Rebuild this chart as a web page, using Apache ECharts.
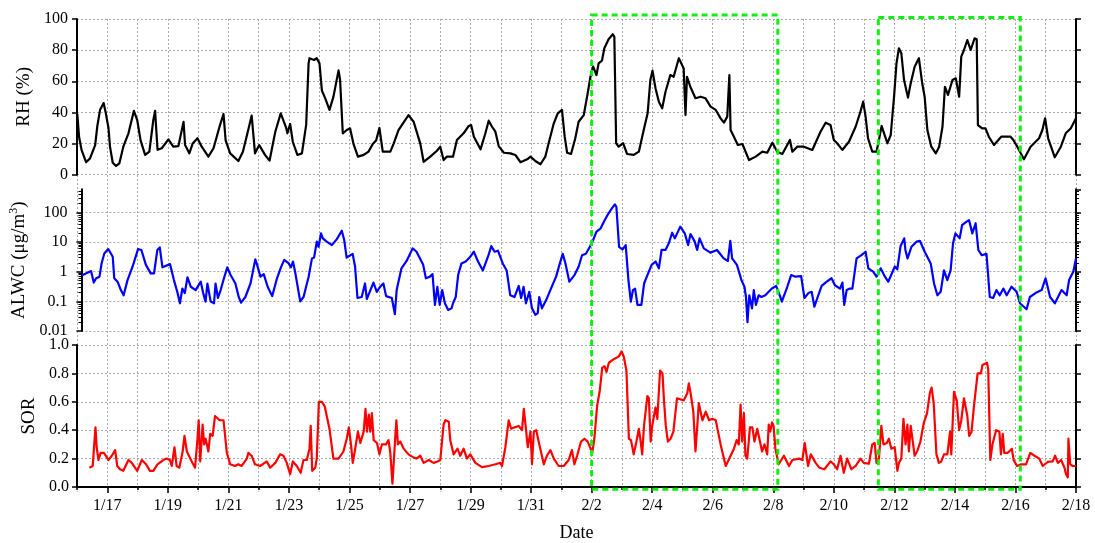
<!DOCTYPE html>
<html>
<head>
<meta charset="utf-8">
<script src="https://cdn.jsdelivr.net/npm/echarts@6/dist/echarts.min.js"></script>
<style>
html,body{margin:0;padding:0;background:#fff;}
#chart{width:1095px;height:543px;}
</style>
</head>
<body>
<div id="chart"></div>
<script>
// x values: day number counted from Jan 0 (Jan 16 = 16, Feb 2 = 33, Feb 18 = 49)
const rhPoints = [[16.01,39],[16.07,24],[16.15,16],[16.30,8],[16.43,10.5],[16.6,19],[16.67,31],[16.76,41.5],[16.88,46],[16.95,39.6],[17.04,30],[17.09,18],[17.18,7.7],[17.29,5.6],[17.4,7.3],[17.53,18],[17.7,26.6],[17.88,41],[17.99,35],[18.1,22],[18.25,12.7],[18.39,14.8],[18.52,35],[18.58,41],[18.66,16],[18.8,17],[19.02,22.7],[19.18,18],[19.35,18.4],[19.52,34],[19.57,19],[19.71,13.7],[19.82,20],[19.98,23.4],[20.12,18],[20.34,11.6],[20.51,17],[20.71,31],[20.84,39],[20.91,22],[21.06,13.7],[21.33,8.8],[21.48,14.8],[21.63,26.6],[21.77,38],[21.88,13.7],[22.02,19],[22.21,12.7],[22.36,9],[22.55,27.6],[22.73,39.4],[22.91,30],[22.95,26.6],[23.04,32.6],[23.13,21],[23.28,12.7],[23.43,13.7],[23.57,32],[23.65,71.5],[23.68,74.8],[23.83,73.7],[23.92,74.8],[24.01,71.5],[24.09,54],[24.2,49],[24.34,41.6],[24.47,50],[24.64,67],[24.69,61],[24.78,26.6],[24.91,28.7],[25.02,29.8],[25.13,20],[25.28,11.6],[25.47,12.7],[25.63,14.8],[25.77,19.7],[25.88,22],[25.99,30],[26.1,14.8],[26.35,14.8],[26.46,20],[26.62,28.7],[26.95,38.3],[27.12,34],[27.34,20],[27.45,8.3],[27.67,11.6],[27.89,15.4],[28.0,18],[28.11,9.4],[28.22,11.6],[28.42,11.6],[28.55,22.3],[28.77,26.6],[28.94,31.3],[29.02,31.9],[29.11,24.4],[29.33,16.3],[29.49,26.6],[29.6,34.7],[29.71,30.8],[29.82,27.6],[29.93,18.4],[30.1,14.1],[30.32,13.7],[30.48,12.7],[30.65,8],[30.87,9.9],[30.98,11.6],[31.14,8.8],[31.31,6.7],[31.47,11.6],[31.58,20.2],[31.75,33],[31.88,39.4],[32.02,41.6],[32.11,24.4],[32.19,14.1],[32.32,13.3],[32.46,23.4],[32.57,34],[32.74,38.3],[32.87,52.3],[32.96,62.9],[33.05,69.4],[33.16,64],[33.23,71.5],[33.34,73.2],[33.42,81.2],[33.56,87],[33.7,90.2],[33.75,88.6],[33.81,20.2],[33.89,18],[34.04,20.2],[34.17,13.3],[34.39,12.7],[34.56,14.8],[34.72,28.7],[34.85,39.4],[34.94,60.8],[35.01,66.8],[35.11,55.5],[35.22,46.9],[35.33,42.6],[35.44,53.3],[35.6,64],[35.71,62.9],[35.88,74.8],[36.04,68.3],[36.1,38.3],[36.15,62.9],[36.26,56.5],[36.43,49.1],[36.6,50.1],[36.76,49.1],[36.93,43.7],[37.1,41.6],[37.26,36.2],[37.37,33.4],[37.48,37.3],[37.55,64],[37.59,28.7],[37.7,24.4],[37.83,19.1],[37.98,19.7],[38.2,9.4],[38.42,11.6],[38.64,14.8],[38.8,14.1],[38.97,20.6],[39.13,14.8],[39.3,13.3],[39.55,22.3],[39.63,14.8],[39.79,18],[40.01,18],[40.29,15.9],[40.56,27.6],[40.73,33.4],[40.89,31.9],[41.0,22.3],[41.11,20.2],[41.28,15.9],[41.5,21.2],[41.72,30.8],[41.88,40.5],[41.97,46.9],[42.05,37.3],[42.13,23.4],[42.27,14.8],[42.41,14.8],[42.49,22.3],[42.58,31.3],[42.66,26.6],[42.77,20.2],[42.88,25.5],[42.99,50.1],[43.07,71.5],[43.15,81.2],[43.23,78],[43.32,60.8],[43.45,49.5],[43.54,58.7],[43.67,69.4],[43.81,74.8],[43.92,58.7],[44.0,50.1],[44.09,28.7],[44.22,18],[44.37,13.7],[44.48,18],[44.59,30.8],[44.67,56.5],[44.77,51.2],[44.92,60.8],[45.03,61.9],[45.14,50.1],[45.21,75.8],[45.3,80.1],[45.41,86.5],[45.52,80.1],[45.65,87.6],[45.72,87],[45.76,31.9],[45.9,29.8],[46.01,29.8],[46.12,24.4],[46.29,19.1],[46.53,24.4],[46.84,24.4],[46.93,22.3],[47.06,18],[47.28,9.9],[47.5,18],[47.78,23.4],[47.89,28.7],[47.98,36.2],[48.08,23.4],[48.3,11.2],[48.5,18],[48.66,26.6],[48.83,29.8],[49.0,36.2]];

const alwcPoints = [[16.01,0.74],[16.32,1.05],[16.41,0.43],[16.49,0.6],[16.6,0.68],[16.67,1.9],[16.76,4.1],[16.89,5.8],[17.04,3.2],[17.09,0.6],[17.2,0.46],[17.31,0.24],[17.4,0.16],[17.53,0.52],[17.7,1.5],[17.88,5.8],[17.99,5.4],[18.14,1.7],[18.3,0.88],[18.41,0.88],[18.52,5.4],[18.6,6.6],[18.69,1.4],[18.94,1.8],[19.07,0.52],[19.18,0.21],[19.27,0.086],[19.35,0.27],[19.43,0.19],[19.52,0.65],[19.63,0.31],[19.79,0.24],[19.96,0.46],[20.04,0.19],[20.12,0.098],[20.18,0.4],[20.29,0.098],[20.4,0.086],[20.45,0.4],[20.53,0.13],[20.62,0.24],[20.73,0.6],[20.84,1.4],[20.95,0.77],[21.11,0.4],[21.22,0.14],[21.3,0.09],[21.44,0.14],[21.61,0.4],[21.77,2.6],[21.83,1.7],[21.94,0.68],[22.05,0.83],[22.18,0.31],[22.33,0.15],[22.49,0.6],[22.62,1.4],[22.73,2.5],[22.88,1.9],[22.95,1.4],[23.02,2.2],[23.1,0.88],[23.26,0.1],[23.37,0.14],[23.54,0.68],[23.65,2.8],[23.72,3],[23.81,10.3],[23.87,6.9],[23.95,19.6],[24.01,13.3],[24.14,10.3],[24.31,7.9],[24.47,12.3],[24.64,24],[24.72,11.7],[24.8,3],[25.0,4],[25.08,1.5],[25.16,0.13],[25.3,0.14],[25.41,0.4],[25.47,0.12],[25.55,0.19],[25.69,0.43],[25.8,0.21],[25.91,0.31],[26.02,0.4],[26.11,0.15],[26.3,0.13],[26.4,0.037],[26.46,0.24],[26.62,1.3],[26.79,2.3],[26.99,6.1],[27.12,4.7],[27.34,1.7],[27.43,0.6],[27.56,0.68],[27.65,0.83],[27.73,0.076],[27.81,0.31],[27.89,0.076],[27.97,0.24],[28.06,0.086],[28.17,0.051],[28.28,0.058],[28.33,0.086],[28.42,0.14],[28.5,0.77],[28.61,1.9],[28.75,2.2],[28.88,3],[29.02,4.7],[29.16,2.2],[29.32,1.1],[29.49,3.2],[29.6,7.3],[29.71,4.7],[29.82,5.1],[29.98,1.9],[30.11,1.1],[30.23,0.16],[30.37,0.14],[30.51,0.33],[30.59,0.13],[30.67,0.31],[30.75,0.086],[30.86,0.21],[30.95,0.058],[31.06,0.035],[31.14,0.04],[31.19,0.14],[31.28,0.058],[31.42,0.11],[31.58,0.27],[31.75,0.68],[31.86,1.7],[31.97,4],[32.06,1.9],[32.19,0.46],[32.36,0.77],[32.5,1.5],[32.61,3.6],[32.74,4],[32.87,6.9],[32.98,11.7],[33.09,22.4],[33.23,29],[33.34,49],[33.49,93],[33.6,136],[33.7,186],[33.75,155],[33.84,6.9],[33.95,5.6],[34.06,7.9],[34.15,0.52],[34.23,0.098],[34.3,0.24],[34.37,0.27],[34.45,0.076],[34.58,0.076],[34.67,0.4],[34.78,0.77],[34.92,1.7],[35.05,2.2],[35.16,1.3],[35.25,5.4],[35.38,5.4],[35.49,9.1],[35.6,20.6],[35.69,13.3],[35.87,33],[36.02,19.6],[36.13,7.9],[36.21,18.6],[36.35,10.3],[36.43,5.4],[36.51,13.3],[36.65,6.1],[36.87,4.4],[37.09,5.4],[37.31,2.8],[37.45,2.3],[37.53,11],[37.59,2.8],[37.75,1.7],[37.9,0.52],[38.0,0.31],[38.05,0.14],[38.1,0.02],[38.16,0.16],[38.25,0.058],[38.31,0.24],[38.38,0.076],[38.47,0.16],[38.56,0.14],[38.69,0.16],[38.91,0.27],[39.05,0.33],[39.19,0.14],[39.24,0.098],[39.42,0.31],[39.55,0.77],[39.69,0.68],[39.88,0.71],[39.99,0.13],[40.12,0.19],[40.23,0.21],[40.32,0.066],[40.43,0.14],[40.56,0.33],[40.73,0.46],[40.89,0.6],[41.0,0.35],[41.17,0.27],[41.25,0.43],[41.31,0.076],[41.39,0.24],[41.5,0.27],[41.58,0.27],[41.72,2.8],[41.88,3.6],[42.02,4.7],[42.11,1.3],[42.27,1],[42.38,0.68],[42.52,1.3],[42.66,0.68],[42.77,0.46],[42.99,1.5],[43.07,1.2],[43.18,7.3],[43.3,13.3],[43.34,5.4],[43.41,2.8],[43.54,6.9],[43.71,10.3],[43.82,11],[43.98,4.7],[44.18,1.9],[44.29,0.4],[44.4,0.16],[44.51,0.21],[44.62,1.1],[44.73,0.52],[44.84,1.1],[44.92,9.1],[45.0,19.6],[45.14,13.3],[45.22,37],[45.37,49],[45.45,55],[45.56,19.6],[45.67,43],[45.76,5.4],[45.87,3.6],[46.03,4],[46.14,0.14],[46.25,0.13],[46.36,0.24],[46.47,0.16],[46.59,0.27],[46.7,0.16],[46.86,0.31],[47.03,0.21],[47.14,0.086],[47.36,0.054],[47.47,0.14],[47.69,0.2],[47.86,0.24],[47.99,0.6],[48.14,0.14],[48.3,0.086],[48.52,0.24],[48.69,0.16],[48.77,0.52],[48.91,1],[49.0,2.8]];

const sorPoints = [[16.41,0.136],[16.52,0.148],[16.56,0.27],[16.61,0.42],[16.65,0.28],[16.71,0.19],[16.78,0.24],[16.89,0.24],[17.04,0.19],[17.15,0.22],[17.26,0.26],[17.33,0.148],[17.42,0.125],[17.53,0.114],[17.7,0.19],[17.81,0.17],[17.99,0.114],[18.14,0.19],[18.28,0.16],[18.41,0.114],[18.52,0.114],[18.66,0.16],[18.85,0.19],[18.96,0.2],[19.07,0.19],[19.13,0.148],[19.22,0.28],[19.29,0.148],[19.38,0.136],[19.49,0.25],[19.55,0.36],[19.63,0.25],[19.79,0.18],[19.9,0.136],[19.98,0.34],[20.02,0.47],[20.07,0.18],[20.12,0.34],[20.15,0.44],[20.2,0.3],[20.25,0.34],[20.34,0.25],[20.4,0.375],[20.48,0.36],[20.56,0.5],[20.62,0.51],[20.71,0.47],[20.84,0.47],[20.95,0.24],[21.06,0.16],[21.22,0.148],[21.33,0.16],[21.44,0.148],[21.61,0.2],[21.66,0.24],[21.77,0.22],[21.88,0.16],[22.05,0.148],[22.27,0.18],[22.38,0.136],[22.55,0.17],[22.71,0.23],[22.82,0.22],[22.93,0.17],[23.04,0.09],[23.13,0.18],[23.26,0.148],[23.39,0.1],[23.48,0.19],[23.59,0.19],[23.68,0.27],[23.72,0.43],[23.77,0.114],[23.87,0.136],[23.92,0.2],[23.99,0.6],[24.09,0.6],[24.18,0.57],[24.25,0.5],[24.34,0.41],[24.47,0.2],[24.64,0.2],[24.8,0.25],[24.91,0.34],[24.98,0.42],[25.05,0.3],[25.11,0.17],[25.19,0.27],[25.28,0.39],[25.36,0.31],[25.47,0.39],[25.53,0.55],[25.58,0.39],[25.64,0.51],[25.69,0.39],[25.74,0.52],[25.8,0.33],[25.91,0.31],[25.99,0.23],[26.07,0.3],[26.21,0.3],[26.29,0.33],[26.35,0.24],[26.42,0.023],[26.49,0.27],[26.55,0.47],[26.6,0.3],[26.68,0.32],[26.79,0.27],[26.95,0.23],[27.1,0.21],[27.21,0.2],[27.34,0.22],[27.45,0.17],[27.62,0.19],[27.78,0.17],[27.91,0.18],[28.0,0.19],[28.11,0.44],[28.17,0.47],[28.28,0.46],[28.33,0.33],[28.44,0.23],[28.57,0.27],[28.66,0.22],[28.77,0.27],[28.88,0.2],[28.99,0.23],[29.16,0.17],[29.38,0.14],[29.6,0.148],[29.82,0.16],[29.98,0.17],[30.04,0.148],[30.15,0.28],[30.26,0.47],[30.34,0.41],[30.45,0.42],[30.59,0.43],[30.7,0.4],[30.76,0.55],[30.81,0.45],[30.89,0.28],[30.98,0.39],[31.03,0.16],[31.09,0.39],[31.17,0.4],[31.25,0.32],[31.42,0.16],[31.52,0.22],[31.64,0.26],[31.75,0.2],[31.91,0.148],[32.08,0.148],[32.24,0.19],[32.35,0.26],[32.43,0.16],[32.52,0.22],[32.65,0.32],[32.76,0.34],[32.87,0.32],[33.02,0.24],[33.09,0.34],[33.18,0.57],[33.27,0.68],[33.35,0.84],[33.43,0.85],[33.49,0.81],[33.57,0.875],[33.73,0.9],[33.9,0.92],[33.99,0.955],[34.06,0.92],[34.15,0.82],[34.23,0.34],[34.3,0.33],[34.39,0.23],[34.48,0.32],[34.56,0.41],[34.62,0.32],[34.67,0.23],[34.73,0.43],[34.84,0.64],[34.89,0.625],[34.95,0.32],[35.0,0.43],[35.11,0.56],[35.17,0.48],[35.26,0.82],[35.34,0.8],[35.39,0.61],[35.45,0.43],[35.52,0.32],[35.61,0.34],[35.7,0.39],[35.82,0.625],[36.04,0.61],[36.16,0.66],[36.21,0.73],[36.27,0.66],[36.36,0.53],[36.43,0.25],[36.49,0.43],[36.54,0.59],[36.66,0.47],[36.77,0.53],[36.88,0.47],[36.99,0.48],[37.1,0.47],[37.15,0.48],[37.26,0.3],[37.43,0.148],[37.59,0.22],[37.7,0.27],[37.79,0.33],[37.86,0.3],[37.92,0.58],[37.97,0.32],[38.03,0.52],[38.08,0.22],[38.14,0.2],[38.23,0.42],[38.31,0.42],[38.38,0.32],[38.47,0.41],[38.63,0.25],[38.71,0.3],[38.8,0.23],[38.85,0.44],[38.9,0.39],[38.96,0.455],[39.01,0.43],[39.07,0.27],[39.18,0.16],[39.35,0.22],[39.52,0.148],[39.63,0.19],[39.85,0.2],[39.96,0.19],[40.04,0.31],[40.15,0.148],[40.24,0.23],[40.4,0.17],[40.52,0.136],[40.69,0.125],[40.89,0.18],[41.0,0.16],[41.11,0.125],[41.22,0.22],[41.33,0.1],[41.44,0.2],[41.5,0.2],[41.58,0.125],[41.72,0.148],[41.88,0.2],[41.99,0.17],[42.16,0.164],[42.27,0.3],[42.35,0.31],[42.41,0.17],[42.49,0.2],[42.57,0.43],[42.64,0.3],[42.75,0.31],[42.82,0.34],[42.9,0.27],[43.01,0.28],[43.1,0.114],[43.15,0.17],[43.23,0.2],[43.3,0.48],[43.37,0.3],[43.43,0.44],[43.48,0.25],[43.54,0.43],[43.6,0.44],[43.67,0.22],[43.75,0.25],[43.86,0.32],[43.97,0.45],[44.08,0.52],[44.17,0.66],[44.23,0.7],[44.3,0.59],[44.39,0.23],[44.47,0.17],[44.55,0.18],[44.64,0.23],[44.75,0.23],[44.84,0.39],[44.88,0.23],[44.97,0.67],[45.06,0.61],[45.14,0.4],[45.21,0.47],[45.3,0.625],[45.41,0.5],[45.47,0.36],[45.55,0.39],[45.64,0.59],[45.75,0.8],[45.86,0.8],[45.91,0.86],[46.06,0.875],[46.1,0.83],[46.17,0.19],[46.24,0.3],[46.36,0.4],[46.47,0.39],[46.52,0.23],[46.58,0.375],[46.63,0.24],[46.74,0.24],[46.88,0.27],[46.94,0.19],[47.05,0.148],[47.19,0.16],[47.35,0.16],[47.49,0.24],[47.63,0.22],[47.79,0.2],[47.9,0.148],[48.07,0.177],[48.23,0.18],[48.31,0.22],[48.4,0.17],[48.51,0.19],[48.62,0.136],[48.67,0.09],[48.73,0.068],[48.75,0.34],[48.81,0.16],[48.89,0.148],[49.0,0.148]];

const dateLabelDays = [17,19,21,23,25,27,29,31,33,35,37,39,41,43,45,47,49];
const logMinorTicks = [0.02,0.03,0.04,0.05,0.06,0.07,0.08,0.09,0.2,0.3,0.4,0.5,0.6,0.7,0.8,0.9,2,3,4,5,6,7,8,9,20,30,40,50,60,70,80,90,200,300,400,500];
// highlighted periods: [startDay, endDay, bottom, top] (bottom/top as fraction of the plot height)
const boxes = [[33.0,39.15,0.005,1.0],[42.47,47.16,0.005,0.995]];

const FONT = 'Liberation Serif';
const X_MIN = 16, X_MAX = 49;
function dayLabel(v){ v = Math.round(v); return v <= 31 ? '1/' + v : '2/' + (v - 31); }
const gridLine = {show:true, lineStyle:{type:[2,2], color:'#a8a8a8', width:1}};
const blackLine = {show:true, onZero:false, lineStyle:{color:'#000', width:2}};
const majorTick = {show:true, inside:false, length:5, lineStyle:{color:'#000', width:1.5}};
const labelStyle = {fontFamily:FONT, fontSize:16, color:'#000'};
const nameStyle = {fontFamily:FONT, fontSize:19, color:'#000'};
const L = 77, R = 19;

function hiddenX(g){ return {gridIndex:g, type:'value', min:X_MIN, max:X_MAX, show:false}; }

const option = {
  animation:false,
  backgroundColor:'#fff',
  grid:[
    {left:L, right:R, top:19, height:155.7},
    {left:L, right:R, top:189.3, height:141.7},
    {left:L, right:R, top:345, height:146.7},
    {left:L, right:R, top:19, height:472.7},
    {left:L, right:R, top:15, height:476.7}
  ],
  xAxis:[
    hiddenX(0),
    hiddenX(1),
    {gridIndex:2, type:'value', min:X_MIN, max:X_MAX, interval:1, position:'bottom',
      axisLine:blackLine, axisTick:{show:true, length:3, lineStyle:{color:'#000', width:1.5}},
      axisLabel:{show:false}, splitLine:{show:false}},
    {gridIndex:2, type:'value', min:X_MIN, max:X_MAX, position:'bottom',
      axisLine:{show:false, onZero:false},
      axisTick:{show:true, length:6, customValues:dateLabelDays, lineStyle:{color:'#000', width:1.5}},
      axisLabel:Object.assign({customValues:dateLabelDays, formatter:dayLabel, margin:11}, labelStyle),
      splitLine:{show:false},
      name:'Date', nameLocation:'middle', nameGap:37, nameTextStyle:Object.assign({}, nameStyle, {fontSize:18})},
    {gridIndex:3, type:'value', min:X_MIN, max:X_MAX, interval:1,
      axisLine:{show:false}, axisTick:{show:false}, axisLabel:{show:false}, splitLine:gridLine},
    hiddenX(4)
  ],
  yAxis:[
    {gridIndex:0, type:'value', min:0, max:100, interval:20, position:'left',
      axisLine:blackLine, axisTick:majorTick, axisLabel:Object.assign({margin:9}, labelStyle), splitLine:gridLine,
      name:'RH (%)', nameLocation:'middle', nameGap:33, nameRotate:90, nameTextStyle:nameStyle},
    {gridIndex:0, type:'value', min:0, max:100, interval:20, position:'right',
      axisLine:blackLine, axisTick:majorTick, axisLabel:{show:false}, splitLine:{show:false}},
    {gridIndex:1, type:'log', logBase:10, min:0.01, max:600, position:'left',
      axisLine:blackLine, axisTick:majorTick,
      axisLabel:Object.assign({margin:14, showMaxLabel:false, formatter:function(v){return String(Number(v.toPrecision(2)));}}, labelStyle),
      splitLine:Object.assign({showMaxLine:false}, gridLine),
      name:'ALWC (μg/m{sup|3})', nameLocation:'middle', nameGap:33, nameRotate:90,
      nameTextStyle:Object.assign({rich:{sup:{fontFamily:FONT, fontSize:12, color:'#000', padding:[0,0,10,0]}}}, nameStyle)},
    {gridIndex:1, type:'log', logBase:10, min:0.01, max:600, position:'left',
      axisLine:{show:false, onZero:false}, axisTick:{show:true, length:3, customValues:logMinorTicks, lineStyle:{color:'#000', width:1}},
      axisLabel:{show:false}, splitLine:{show:false}},
    {gridIndex:1, type:'log', logBase:10, min:0.01, max:600, position:'right',
      axisLine:blackLine, axisTick:majorTick, axisLabel:{show:false}, splitLine:{show:false}},
    {gridIndex:1, type:'log', logBase:10, min:0.01, max:600, position:'right',
      axisLine:{show:false, onZero:false}, axisTick:{show:true, length:3, customValues:logMinorTicks, lineStyle:{color:'#000', width:1}},
      axisLabel:{show:false}, splitLine:{show:false}},
    {gridIndex:2, type:'value', min:0, max:1, interval:0.2, position:'left',
      axisLine:blackLine, axisTick:majorTick,
      axisLabel:Object.assign({margin:8, formatter:function(v){return v.toFixed(1);}}, labelStyle),
      splitLine:gridLine,
      name:'SOR', nameLocation:'middle', nameGap:36, nameRotate:90, nameTextStyle:nameStyle},
    {gridIndex:2, type:'value', min:0, max:1, interval:0.2, position:'right',
      axisLine:blackLine, axisTick:majorTick, axisLabel:{show:false}, splitLine:{show:false}},
    {gridIndex:3, type:'value', min:0, max:1, show:false},
    {gridIndex:4, type:'value', min:0, max:1, show:false}
  ],
  series:[
    {type:'line', xAxisIndex:0, yAxisIndex:0, data:rhPoints, showSymbol:false, symbol:'none',
      lineStyle:{color:'#000', width:2.2, join:'round'}, z:3},
    {type:'line', xAxisIndex:1, yAxisIndex:2, data:alwcPoints, showSymbol:false, symbol:'none',
      lineStyle:{color:'#0000ff', width:2.2, join:'round'}, z:3},
    {type:'line', xAxisIndex:2, yAxisIndex:6, data:sorPoints, showSymbol:false, symbol:'none',
      lineStyle:{color:'#ff0000', width:2.2, join:'round'}, z:3},
    {type:'custom', xAxisIndex:5, yAxisIndex:9, data:boxes, clip:false, z:10,
      encode:{x:[0,1], y:[2,3]},
      renderItem:function(params, api){
        const p0 = api.coord([api.value(0), api.value(3)]);
        const p1 = api.coord([api.value(1), api.value(2)]);
        return {type:'rect', shape:{x:p0[0], y:p0[1], width:p1[0]-p0[0], height:p1[1]-p0[1]},
          style:{fill:'none', stroke:'#11ee11', lineWidth:3, lineDash:[6,4]}};
      }}
  ]
};

const chart = echarts.init(document.getElementById('chart'), null, {renderer:'canvas'});
chart.setOption(option);
</script>
</body>
</html>
